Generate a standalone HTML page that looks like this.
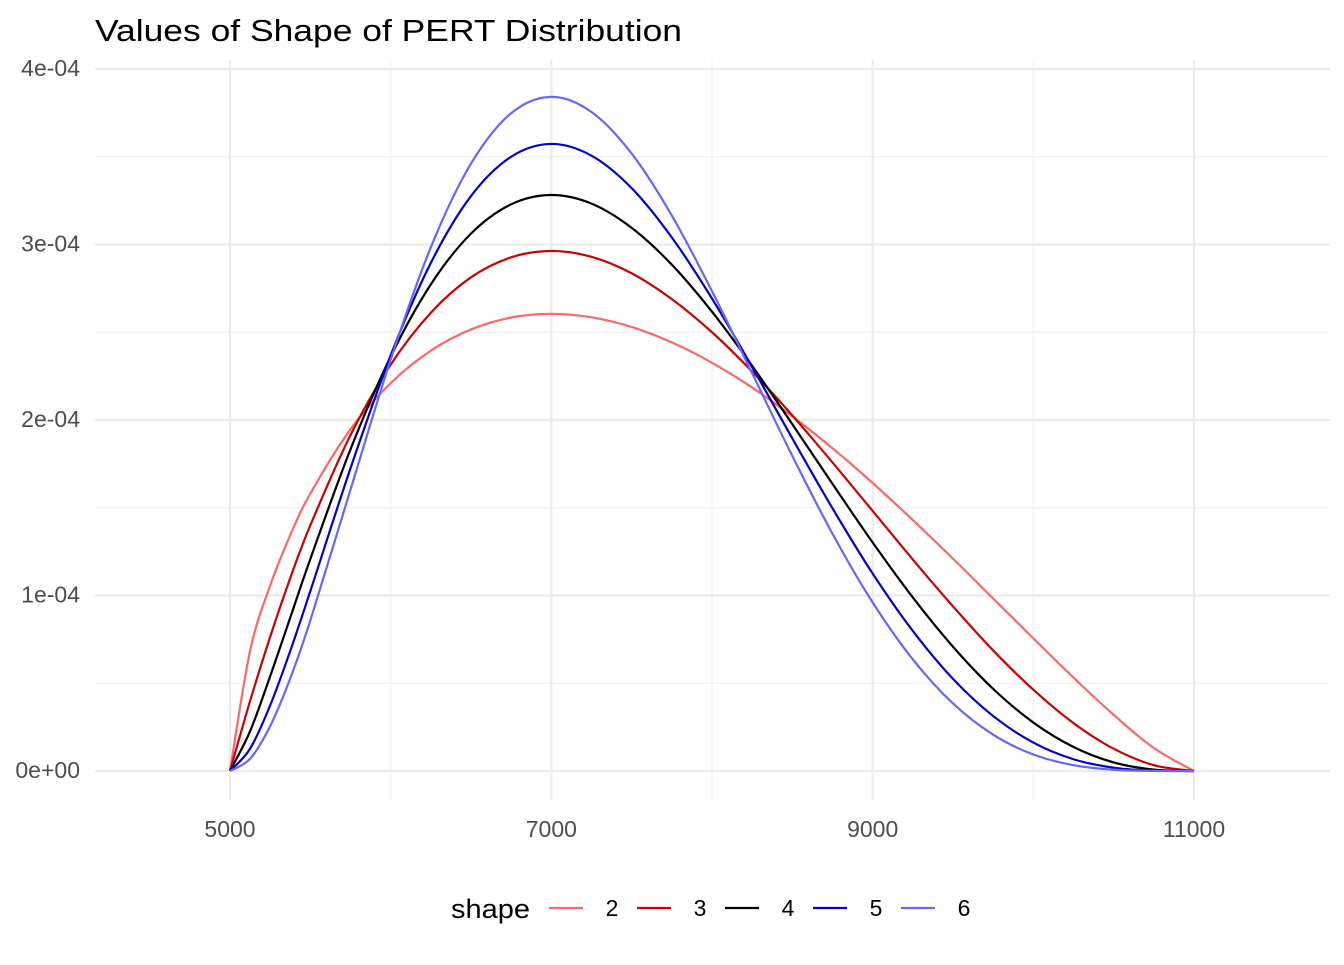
<!DOCTYPE html>
<html><head><meta charset="utf-8"><style>
body{margin:0;background:#fff;}
svg text{font-family:"Liberation Sans",sans-serif;}
</style></head><body>
<svg width="1344" height="960" xmlns="http://www.w3.org/2000/svg">
<rect width="1344" height="960" fill="#fff"/>
<g id="grid"></g>
<g id="series"></g>
<g id="axes"></g>
<text x="95" y="41" font-size="31" textLength="587" lengthAdjust="spacingAndGlyphs" fill="#000">Values of Shape of PERT Distribution</text>
<g id="legend">
<text x="451" y="918" font-size="27" textLength="79" lengthAdjust="spacingAndGlyphs" fill="#000">shape</text>
</g>
</svg>
<script>
const xs=[5000,5125,5250,5375,5500,5750,6000,6250,6500,6750,7000,7250,7500,7750,8000,8250,8500,8750,9000,9250,9500,9750,10000,10250,10500,10750,11000];
const shape2=[0,0.685,1.057,1.344,1.581,1.947,2.210,2.395,2.516,2.584,2.605,2.585,2.530,2.442,2.326,2.185,2.021,1.839,1.641,1.430,1.210,0.983,0.756,0.532,0.320,0.131,0];
const shape3=[0,0.399,0.765,1.099,1.400,1.914,2.315,2.611,2.813,2.927,2.963,2.930,2.836,2.689,2.500,2.276,2.026,1.758,1.482,1.205,0.938,0.687,0.463,0.273,0.127,0.033,0];
const shape4=[0,0.227,0.540,0.874,1.208,1.833,2.361,2.773,3.062,3.229,3.282,3.233,3.095,2.885,2.617,2.308,1.976,1.636,1.302,0.989,0.708,0.468,0.276,0.137,0.049,0.008,0];
const shape5=[0,0.127,0.374,0.684,1.025,1.725,2.368,2.895,3.276,3.500,3.573,3.506,3.321,3.040,2.692,2.302,1.895,1.497,1.125,0.798,0.525,0.313,0.162,0.067,0.019,0.002,0];
const shape6=[0,0.070,0.256,0.528,0.858,1.603,2.344,2.984,3.461,3.748,3.841,3.755,3.518,3.165,2.734,2.266,1.795,1.352,0.960,0.636,0.385,0.207,0.094,0.033,0.007,0.0005,0];
const shapeNames=["2","3","4","5","6"];
const colors=["#ff6666","#cc0000","#000000","#0000cc","#6666ff"];
const xTicks=[5000,7000,9000,11000];
const xMinor=[6000,8000,10000];
const yTicks=[0,1,2,3,4];
const yTickLabels=["0e+00","1e-04","2e-04","3e-04","4e-04"];
const NS="http://www.w3.org/2000/svg";
const PL=95,PR=1330,PT=60,PB=800;
const sx=v=>230+(v-5000)*(1194-230)/6000;
const sy=v=>771-v*(771-69)/4;
function mk(tag,attrs,parent){const e=document.createElementNS(NS,tag);for(const k in attrs)e.setAttribute(k,attrs[k]);parent.appendChild(e);return e;}
const grid=document.getElementById('grid'),axes=document.getElementById('axes'),ser=document.getElementById('series'),leg=document.getElementById('legend');
xMinor.forEach(v=>{const l=mk('line',{x1:sx(v),x2:sx(v),y1:PT,y2:PB,stroke:'#f0f0f0','stroke-width':1.2},grid);

});
for(let i=0;i<4;i++){const v=i+0.5;const l=mk('line',{x1:PL,x2:PR,y1:sy(v),y2:sy(v),stroke:'#f0f0f0','stroke-width':1.2},grid);

}
xTicks.forEach(v=>{const l=mk('line',{x1:sx(v),x2:sx(v),y1:PT,y2:PB,stroke:'#ebebeb','stroke-width':2.2},grid);


const t=mk('text',{x:sx(v),y:837,'font-size':23,fill:'#4d4d4d','text-anchor':'middle'},axes);t.textContent=v;

});
yTicks.forEach((v,i)=>{const l=mk('line',{x1:PL,x2:PR,y1:sy(v),y2:sy(v),stroke:'#ebebeb','stroke-width':2.2},grid);


const t=mk('text',{x:80,y:sy(v)+7,'font-size':23,fill:'#4d4d4d','text-anchor':'end'},axes);t.textContent=yTickLabels[i];

});
function pathFor(ys){const p=xs.map((x,i)=>[sx(x),sy(ys[i])]);let d='M'+p[0][0]+','+p[0][1];
for(let i=0;i<p.length-1;i++){const p0=p[Math.max(i-1,0)],p1=p[i],p2=p[i+1],p3=p[Math.min(i+2,p.length-1)];
const c1=[p1[0]+(p2[0]-p0[0])/6,p1[1]+(p2[1]-p0[1])/6],c2=[p2[0]-(p3[0]-p1[0])/6,p2[1]-(p3[1]-p1[1])/6];
d+=` C${c1[0]},${c1[1]} ${c2[0]},${c2[1]} ${p2[0]},${p2[1]}`;}return d;}
[shape2,shape3,shape4,shape5,shape6].forEach((ys,i)=>{const p=mk('path',{d:pathFor(ys),fill:'none',stroke:colors[i],'stroke-width':2.2},ser);


const kx=549+i*88;
const k=mk('line',{x1:kx,x2:kx+34,y1:908,y2:908,stroke:colors[i],'stroke-width':2.2},leg);


const t=mk('text',{x:kx+63,y:916,'font-size':23,fill:'#000','text-anchor':'middle'},leg);t.textContent=shapeNames[i];

});
</script>
</body></html>
